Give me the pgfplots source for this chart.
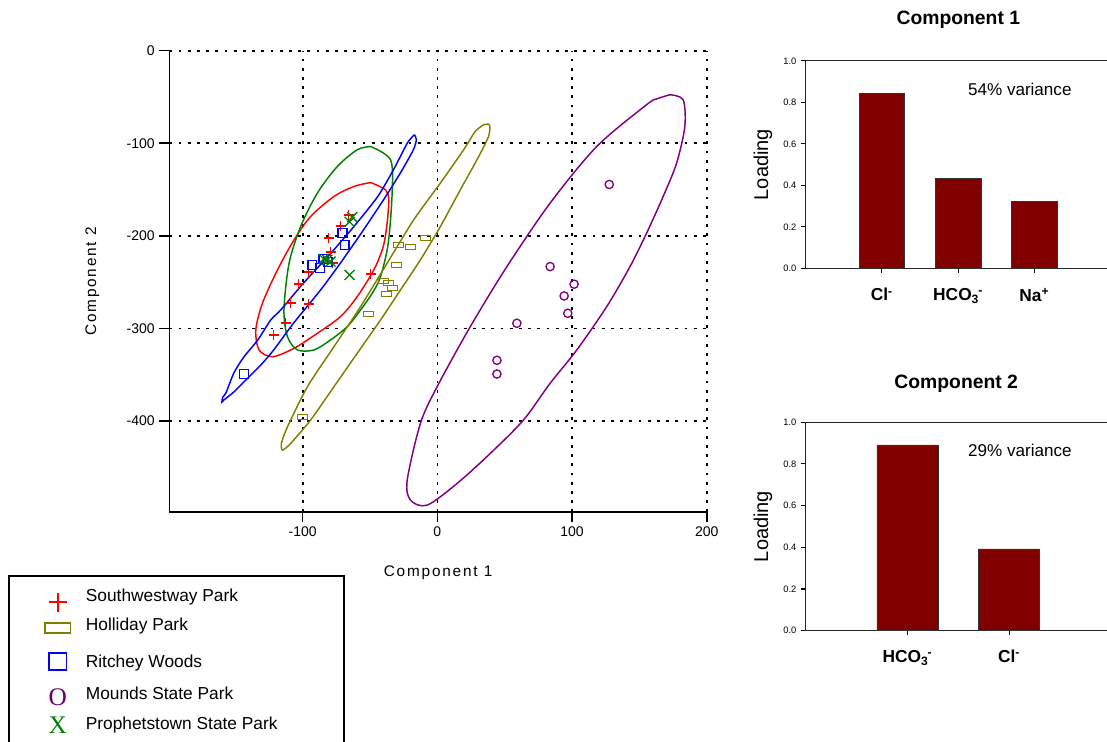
\documentclass[border=0pt]{standalone}
\usepackage{fontspec}
\setmainfont{Liberation Sans}
\newfontfamily\serifmark{Liberation Serif}
\newfontfamily\spacedsans[LetterSpace=12]{Liberation Sans}
\usepackage{pgfplots}
\pgfplotsset{compat=1.18}

\definecolor{swred}{RGB}{255,0,0}
\definecolor{holive}{RGB}{128,128,0}
\definecolor{rblue}{RGB}{0,0,255}
\definecolor{mpurple}{RGB}{128,0,128}
\definecolor{mpurpledark}{RGB}{102,0,102}
\definecolor{pgreen}{RGB}{0,128,0}
\definecolor{barred}{RGB}{128,0,0}

% spacer that fixes the size of a legend row: #1 above, #2 below the text centre
\newcommand{\legendcell}[2]{\path[draw=none, fill=none] (-36.5pt,-#2) rectangle (21pt,#1);}
\newcommand{\hco}{HCO\textsubscript{3}\kern-0.05em\textsuperscript{-}}

\begin{document}
\begin{tikzpicture}
% ---------------- PCA scores ----------------
\begin{axis}[
  at={(127pt,172.3pt)}, anchor=south west,
  scale only axis, width=403.1pt, height=346.2pt,
  xmin=-199, xmax=200, ymin=-498.5, ymax=0,
  axis x line*=bottom, axis y line*=left,
  axis line style={-, line width=1.2pt, black},
  xtick={-100,0,100,200}, xticklabels={-100,0,100,200},
  ytick={-400,-300,-200,-100,0}, yticklabels={-400,-300,-200,-100,0},
  tick align=outside, major tick length=7.5pt,
  tick style={line width=1.2pt, black},
  grid=major,
  major grid style={black, line width=1.3pt, dash pattern=on 2.2pt off 4.7pt},
  tick label style={font=\fontsize{10.5}{12}\selectfont},
  label style={font=\spacedsans\fontsize{11.5}{13}\selectfont},
  xlabel={Component 1}, ylabel={Component 2},
  xlabel style={at={(axis description cs:0.5,-0.13)}, anchor=center},
  ylabel style={at={(axis description cs:-0.143,0.5)}, anchor=center},
  legend cell align=left,
  legend style={
    at={(axis description cs:-0.2995,-0.1358)}, anchor=north west,
    draw=black, line width=1.25pt, fill=white,
    inner xsep=0pt, inner ysep=3pt, row sep=0pt, column sep=0pt,
    nodes={inner sep=0pt, draw=none, font=\fontsize{13}{15}\selectfont},
  },
]
% confidence ellipses
\addplot[swred, line width=1.1pt, smooth, tension=0.5, forget plot] coordinates {
  (-49.6,-142.4) (-38.5,-150.3) (-36.1,-161.1) (-37.3,-185.9) (-40.2,-211.6)
  (-47.2,-236.8) (-59.5,-265.6) (-71.9,-287.2) (-89.1,-305.2) (-106.4,-321.4)
  (-122.4,-330.5) (-132.4,-323.2) (-134.8,-301.6) (-129.9,-272.8) (-118.7,-236.8)
  (-106.4,-204.3) (-94.1,-179.1) (-76.8,-157.5) (-62,-146.7) (-49.6,-142.4)};
\addplot[pgreen, line width=1.1pt, smooth, tension=0.5, forget plot] coordinates {
  (-49.6,-103.5) (-34.8,-117.8) (-33.6,-153.8) (-36.5,-207.9) (-42.2,-244)
  (-48.4,-262) (-57,-280) (-66.9,-298) (-79.3,-312.4) (-91.6,-323.2)
  (-103.9,-323.2) (-111.3,-308.9) (-113.9,-280) (-110.1,-229.5) (-101.5,-189.9)
  (-89.1,-153.8) (-74.3,-125.1) (-59.5,-107) (-49.6,-103.5)};
\addplot[rblue, line width=1.1pt, smooth, tension=0.4, forget plot] coordinates {
  (-17,-90.8) (-15.6,-96.2) (-17.8,-107) (-27.4,-131.9) (-40,-161.1)
  (-54.8,-193.5) (-71.9,-229.2) (-86.7,-258.4) (-106.7,-294.1) (-121.5,-323.2)
  (-131.1,-339.5) (-143.7,-357.8) (-151.1,-368.6) (-158.5,-377.3) (-160,-379.5)
  (-159.3,-374.1) (-157,-369.7) (-151.1,-348.1) (-143.7,-330.8) (-133.3,-312.4)
  (-123.7,-290.8) (-116.3,-280) (-99.3,-250.8) (-81.5,-222.7) (-62.2,-190.3)
  (-44.4,-157.8) (-32.6,-128.6) (-22.2,-99.5) (-17,-90.8)};
\addplot[holive, line width=1.1pt, smooth, tension=0.4, forget plot] coordinates {
  (34.3,-80) (38.7,-80) (38,-92.6) (29.4,-117.8) (17,-150.3) (2.2,-190)
  (-12.6,-225.9) (-27.4,-258.4) (-42.2,-290.8) (-59.5,-326.8) (-76.8,-362.9)
  (-94.1,-398.9) (-108.9,-424.1) (-115,-431.4) (-115.8,-424.1) (-111.3,-406.2)
  (-96.5,-362.9) (-76.8,-319.7) (-57,-276.4) (-37.3,-229.5) (-17.6,-182.7)
  (2.2,-143) (19.5,-107) (28.1,-87.2) (34.3,-80)};
\addplot[mpurple, line width=1.1pt, smooth, tension=0.5, forget plot] coordinates {
  (172.6,-47.6) (182.4,-53) (183.7,-81.8) (177.6,-121.4) (167.6,-157.5)
  (155.3,-197.1) (143,-233.2) (125.7,-276.4) (103.5,-323.2) (83.7,-359.2)
  (63.9,-398.9) (39.3,-434.9) (14.6,-467.4) (-7.6,-490.8) (-20,-485.4)
  (-22.4,-463.8) (-12.6,-402.5) (-0.2,-362.9) (24.4,-298.1) (51.6,-233.2)
  (83.7,-164.6) (118.3,-103.5) (155.3,-58.4) (162.7,-52.2) (172.6,-47.6)};

% site scores
\addplot[only marks, mark=+, mark size=3.75pt, mark options={swred, line width=1pt},
  legend image code/.code={\legendcell{12pt}{10.9pt}
    \draw[overlay, swred, line width=1.5pt] (-7pt,-5pt) -- (7pt,-5pt) (0,-12pt) -- (0,2pt);}]
  coordinates {
  (-65.9,-177.3) (-71.9,-189.2) (-80.7,-202.2) (-79.3,-217.3) (-77.8,-229.2)
  (-95.6,-238.9) (-103,-251.9) (-108.9,-272.4) (-95.6,-273.5) (-112.6,-294.1)
  (-121.5,-307) (-49.6,-241.1)};
\addlegendentry{\makebox[193.5pt][l]{Southwestway Park}}
\addplot[only marks, mark=square, mark size=2.5pt,
  mark options={holive, line width=0.9pt, xscale=1.5, yscale=0.7},
  legend image code/.code={\legendcell{10.9pt}{13.9pt}
    \draw[overlay, holive, line width=1.25pt] (-9.4pt,-6pt) rectangle (9.4pt,1.5pt);}]
  coordinates {
  (-8.9,-202.2) (-28.9,-209.7) (-20,-211.9) (-30.4,-231.4) (-40,-248.6)
  (-36.3,-250.8) (-33.3,-256.2) (-37.8,-262.7) (-51.1,-284.3) (-100,-395.7)};
\addlegendentry{Holliday Park}
\addplot[only marks, mark=square, mark size=3.3pt, mark options={rblue, line width=1pt},
  legend image code/.code={\legendcell{13.9pt}{12pt}
    \draw[overlay, rblue, line width=1.25pt] (-6.4pt,-6pt) rectangle (6.4pt,6.8pt);}]
  coordinates {
  (-70.4,-196.8) (-68.9,-209.7) (-92.8,-231.4) (-87.2,-234.9) (-84.7,-225.2)
  (-81.5,-228.1) (-143.7,-349.2)};
\addlegendentry{Ritchey Woods}
\addplot[only marks, mark=o, mark size=3.1pt, mark options={mpurple, line width=1pt},
  legend image code/.code={\legendcell{12pt}{11.25pt}
    \node[overlay, anchor=center, text=mpurpledark, inner sep=0pt, draw=none,
      font=\serifmark\fontsize{19}{19}\selectfont] at (0,-3pt) {O};}]
  coordinates {
  (127.6,-144.5) (83.7,-233.2) (101.5,-252.2) (94.1,-264.9) (96.8,-283.6)
  (59,-294.4) (44.2,-334.4) (44.2,-349.2)};
\addlegendentry{Mounds State Park}
\addplot[only marks, mark=x, mark size=5.3pt, mark options={pgreen, line width=1pt},
  legend image code/.code={\legendcell{11.25pt}{11.25pt}
    \node[overlay, anchor=center, text=pgreen, inner sep=0pt, draw=none,
      font=\serifmark\fontsize{19}{19}\selectfont] at (0,-2pt) {X};}]
  coordinates {
  (-63.2,-179.8) (-65.2,-184.9) (-81.7,-226) (-79.3,-227.8) (-84.4,-224.9)
  (-65.2,-242.2)};
\addlegendentry{Prophetstown State Park}
\addlegendimage{legend image code/.code={\legendcell{11.25pt}{11.25pt}}}
\addlegendentry{}
\end{axis}

% ---------------- Component 1 loadings ----------------
\begin{axis}[
  at={(604.3pt,355.3pt)}, anchor=south west,
  scale only axis, width=225.7pt, height=155.5pt,
  xmin=0, xmax=3.95, ymin=0, ymax=1,
  axis x line*=box, axis y line*=left,
  axis line style={-, black!85, line width=0.8pt},
  xtick={1,2,3},
  xticklabels={Cl\textsuperscript{-}, \hco, Na\textsuperscript{+}},
  ytick={0,0.2,0.4,0.6,0.8,1}, yticklabels={0.0,0.2,0.4,0.6,0.8,1.0},
  tick align=outside, major tick length=3.5pt, tick pos=left,
  tick style={black, line width=0.8pt},
  xticklabel style={font=\bfseries\fontsize{13}{15}\selectfont, yshift=-8pt},
  yticklabel style={font=\fontsize{7}{8}\selectfont},
  ylabel={Loading},
  ylabel style={font=\fontsize{15}{17}\selectfont, at={(axis description cs:-0.142,0.5)}, anchor=center},
  title={Component 1},
  title style={font=\bfseries\fontsize{14.5}{16}\selectfont, at={(axis description cs:0.507,1.159)}, anchor=center},
]
\addplot[ybar, bar width=0.6, fill=barred, draw=black!80, line width=0.6pt]
  coordinates {(1,0.844) (2,0.434) (3,0.321)};
\node[anchor=center, font=\fontsize{12.8}{14}\selectfont] at (axis cs:2.81,0.865) {54\% variance};
\end{axis}

% ---------------- Component 2 loadings ----------------
\begin{axis}[
  at={(604.3pt,83.5pt)}, anchor=south west,
  scale only axis, width=225.7pt, height=156.3pt,
  xmin=0, xmax=2.96, ymin=0, ymax=1,
  axis x line*=box, axis y line*=left,
  axis line style={-, black!85, line width=0.8pt},
  xtick={1,2},
  xticklabels={\hco, Cl\textsuperscript{-}},
  ytick={0,0.2,0.4,0.6,0.8,1}, yticklabels={0.0,0.2,0.4,0.6,0.8,1.0},
  tick align=outside, major tick length=3.5pt, tick pos=left,
  tick style={black, line width=0.8pt},
  xticklabel style={font=\bfseries\fontsize{13}{15}\selectfont, yshift=-7.5pt},
  yticklabel style={font=\fontsize{7}{8}\selectfont},
  ylabel={Loading},
  ylabel style={font=\fontsize{15}{17}\selectfont, at={(axis description cs:-0.142,0.5)}, anchor=center},
  title={Component 2},
  title style={font=\bfseries\fontsize{14.5}{16}\selectfont, at={(axis description cs:0.5,1.147)}, anchor=center},
]
\addplot[ybar, bar width=0.6, fill=barred, draw=black!80, line width=0.6pt]
  coordinates {(1,0.891) (2,0.392)};
\node[anchor=center, font=\fontsize{12.8}{14}\selectfont] at (axis cs:2.107,0.864) {29\% variance};
\end{axis}

\pgfresetboundingbox
\path[use as bounding box] (0,0) rectangle (830.25pt,556.5pt);
\end{tikzpicture}
\end{document}
